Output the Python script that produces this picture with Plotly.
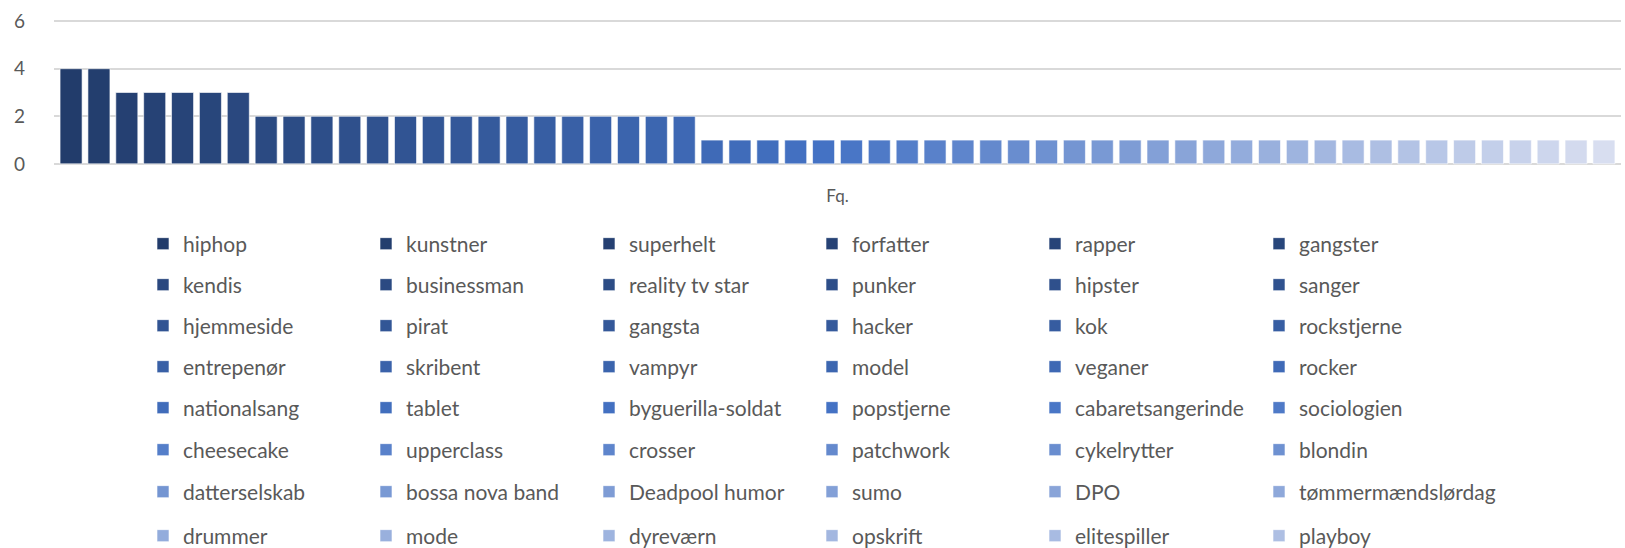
import plotly.graph_objects as go

# ---- data ----
category = ["Fq."]
terms = [
    "hiphop", "kunstner", "superhelt", "forfatter", "rapper", "gangster",
    "kendis", "businessman", "reality tv star", "punker", "hipster", "sanger",
    "hjemmeside", "pirat", "gangsta", "hacker", "kok", "rockstjerne",
    "entrepenør", "skribent", "vampyr", "model", "veganer", "rocker",
    "nationalsang", "tablet", "byguerilla-soldat", "popstjerne", "cabaretsangerinde", "sociologien",
    "cheesecake", "upperclass", "crosser", "patchwork", "cykelrytter", "blondin",
    "datterselskab", "bossa nova band", "Deadpool humor", "sumo", "DPO", "tømmermændslørdag",
    "drummer", "mode", "dyreværn", "opskrift", "elitespiller", "playboy",
]
# 8 further bars whose legend entries are cut off in the reference
hidden_terms = ["", "", "", "", "", "", "", ""]
values = [4, 4, 3, 3, 3, 3, 3,
          2, 2, 2, 2, 2, 2, 2, 2, 2, 2, 2, 2, 2, 2, 2, 2,
          1, 1, 1, 1, 1, 1, 1, 1, 1, 1, 1, 1, 1, 1, 1, 1, 1, 1, 1, 1,
          1, 1, 1, 1, 1, 1, 1, 1, 1, 1, 1, 1, 1]
y_ticks = [0, 2, 4, 6]

# ---- style ----
W, H = 1625, 548
FONT = "Lato"
GREY = "#595959"
anchors = [(0, (0x22, 0x3C, 0x6B)), (27, (0x44, 0x72, 0xC4)), (55, (0xD8, 0xDE, 0xF0))]


def ramp(i):
    for (i0, c0), (i1, c1) in zip(anchors[:-1], anchors[1:]):
        if i0 <= i <= i1:
            t = (i - i0) / (i1 - i0)
            return "rgb(%d,%d,%d)" % tuple(round(a + (b - a) * t) for a, b in zip(c0, c1))
    return "rgb(%d,%d,%d)" % anchors[-1][1]


def legend_key(n):
    return "legend" if n == 1 else "legend%d" % n


all_names = terms + hidden_terms
n_cols = 6
row_y = [244, 285, 326, 367, 408, 450, 492, 536]
legend_x = 143
col_step = 223.2

fig = go.Figure()
for i, (name, v) in enumerate(zip(all_names, values)):
    shown = i < len(terms)
    row, col = divmod(i, n_cols)
    key = legend_key(2 * row + (2 if col == n_cols - 1 else 1)) if shown else "legend"
    fig.add_trace(go.Bar(
        x=category, y=[v], name=name,
        marker=dict(color=ramp(i), line=dict(color="rgba(255,255,255,0.6)", width=1)),
        showlegend=shown, legend=key,
    ))

legend_common = dict(
    orientation="h", xref="container", yref="container", xanchor="left", yanchor="middle",
    font=dict(family=FONT, size=21, color=GREY), entrywidthmode="pixels",
    bgcolor="rgba(0,0,0,0)", borderwidth=0, traceorder="normal", itemclick=False,
)
legends = {}
for r, yy in enumerate(row_y):
    legends[legend_key(2 * r + 1)] = dict(legend_common, entrywidth=178,
                                           x=legend_x / W, y=1 - yy / H)
    legends[legend_key(2 * r + 2)] = dict(legend_common, entrywidth=300,
                                           x=(legend_x + (n_cols - 1) * col_step) / W, y=1 - yy / H)

plot_top, plot_bottom = 21.5, 164
pad = 0.09
px_per_unit = (plot_bottom - plot_top) / 6

fig.update_layout(
    width=W, height=H,
    margin=dict(l=54, r=4, t=plot_top - pad * px_per_unit, b=H - plot_bottom - pad * px_per_unit,
                autoexpand=False),
    paper_bgcolor="white", plot_bgcolor="white",
    barmode="group", bargap=0.004, bargroupgap=0.21,
    font=dict(family=FONT, color=GREY),
    xaxis=dict(showgrid=False, showline=False, zeroline=False, ticks="",
               tickfont=dict(family=FONT, size=17, color=GREY), ticklabelstandoff=18),
    yaxis=dict(range=[-pad, 6 + pad], tickvals=y_ticks, showgrid=True, gridcolor="#D9D9D9",
               gridwidth=1.5, zeroline=False, showline=False, ticks="",
               tickfont=dict(family=FONT, size=19, color=GREY), ticklabelstandoff=28),
    **legends,
)

fig.write_html("out.html", config={"displayModeBar": False},
               post_script="document.body.style.margin='0px';")
